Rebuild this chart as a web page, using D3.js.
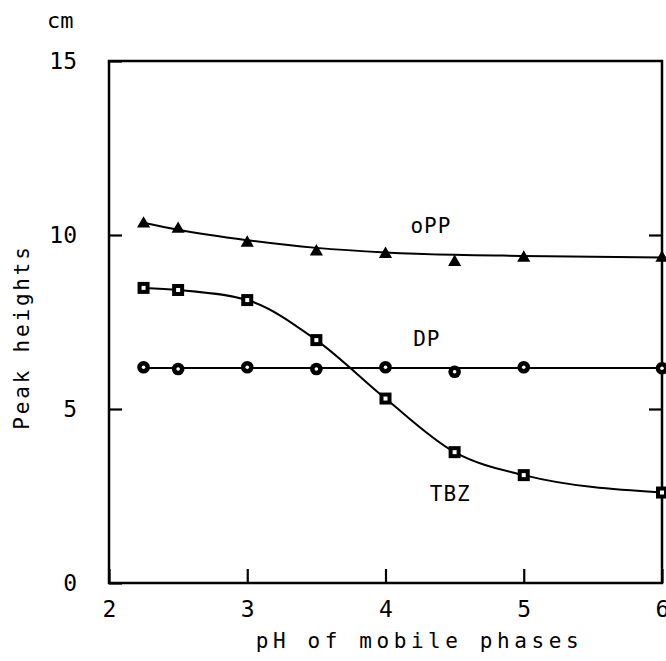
<!DOCTYPE html>
<html><head><meta charset="utf-8">
<script src="https://cdn.jsdelivr.net/npm/d3@7"></script>
<style>body{margin:0;background:#fff}svg{display:block}text{font-family:"DejaVu Sans Mono",monospace;fill:#000}</style>
</head><body>
<script>
const pH = [2.25, 2.5, 3.0, 3.5, 4.0, 4.5, 5.0, 6.0];
const oPP = [10.35, 10.2, 9.8, 9.55, 9.48, 9.25, 9.37, 9.37];
const oPPCurve = [10.35, 10.15, 9.85, 9.63, 9.5, 9.43, 9.4, 9.35];
const DP = [6.2, 6.15, 6.2, 6.15, 6.2, 6.07, 6.2, 6.17];
const DPCurve = [6.18, 6.18, 6.18, 6.18, 6.18, 6.18, 6.18, 6.18];
const TBZ = [8.48, 8.42, 8.13, 6.98, 5.3, 3.76, 3.1, 2.6];
const xTicks = [2, 3, 4, 5, 6];
const yTicks = [0, 5, 10, 15];
const seriesLabels = [{t:"oPP", x:4.18, y:10.05}, {t:"DP", x:4.2, y:6.8}, {t:"TBZ", x:4.32, y:2.35}];

const W = 666, H = 661;
const svg = d3.select("body").append("svg").attr("width", W).attr("height", H);
const x = d3.scaleLinear().domain([2, 6]).range([109, 662]);
const y = d3.scaleLinear().domain([0, 15]).range([583, 61]);

// frame
svg.append("rect").attr("x", x(2)).attr("y", y(15)).attr("width", x(6) - x(2)).attr("height", y(0) - y(15))
  .attr("fill", "none").attr("stroke", "#000").attr("stroke-width", 2.5);

const fs = 23;
const gx = svg.append("g").attr("transform", `translate(0,${y(0)})`)
  .call(d3.axisBottom(x).tickValues(xTicks).tickSize(-14).tickPadding(18).tickFormat(d3.format("d")));
const gy = svg.append("g").attr("transform", `translate(${x(2)},0)`)
  .call(d3.axisLeft(y).tickValues(yTicks).tickSize(-13).tickPadding(32).tickFormat(d3.format("d")));
const gr = svg.append("g").attr("transform", `translate(${x(6)},0)`)
  .call(d3.axisRight(y).tickValues([5, 10]).tickSize(-13).tickFormat(""));
[gx, gy, gr].forEach(g => {
  g.select(".domain").remove();
  g.selectAll("line").attr("stroke", "#000").attr("stroke-width", 2.2);
  g.selectAll("text").attr("font-size", fs).attr("font-family", "DejaVu Sans Mono").attr("fill", "#000");
});

// lines
const line = d3.line().x(d => x(d[0])).y(d => y(d[1])).curve(d3.curveMonotoneX);
const addLine = vals => svg.append("path").datum(pH.map((p, i) => [p, vals[i]]))
  .attr("d", line).attr("fill", "none").attr("stroke", "#000").attr("stroke-width", 2);
addLine(oPPCurve); addLine(DPCurve); addLine(TBZ);

// markers
svg.append("g").selectAll("path").data(pH.map((p, i) => [p, oPP[i]])).join("path")
  .attr("transform", d => `translate(${x(d[0])},${y(d[1]) + 1})`)
  .attr("d", d3.symbol(d3.symbolTriangle, 75)).attr("fill", "#000");
const dpG = svg.append("g").selectAll("g").data(pH.map((p, i) => [p, DP[i]])).join("g")
  .attr("transform", d => `translate(${x(d[0])},${y(d[1])})`);
dpG.append("circle").attr("r", 6.3).attr("fill", "#000");
dpG.append("circle").attr("r", 1.8).attr("fill", "#fff");
const tbG = svg.append("g").selectAll("g").data(pH.map((p, i) => [p, TBZ[i]])).join("g")
  .attr("transform", d => `translate(${x(d[0])},${y(d[1])})`);
tbG.append("rect").attr("x", -6).attr("y", -6).attr("width", 12).attr("height", 12).attr("fill", "#000");
tbG.append("rect").attr("x", -2).attr("y", -2).attr("width", 4).attr("height", 4).attr("fill", "#fff");

// series labels
svg.append("g").selectAll("text").data(seriesLabels).join("text")
  .attr("x", d => x(d.x)).attr("y", d => y(d.y)).attr("font-size", 21).attr("letter-spacing", 1)
  .text(d => d.t);

// axis titles
svg.append("text").attr("x", 47).attr("y", 28).attr("font-size", 22).text("cm");
svg.append("text").attr("x", (x(2) + x(6)) / 2 + 34).attr("y", 648).attr("text-anchor", "middle")
  .attr("font-size", 21).attr("letter-spacing", 4.6).text("pH of mobile phases");
svg.append("text").attr("transform", `translate(29,${(y(0) + y(15)) / 2 + 15}) rotate(-90)`)
  .attr("text-anchor", "middle").attr("font-size", 21).attr("letter-spacing", 2.8).text("Peak heights");
</script>
</body></html>
